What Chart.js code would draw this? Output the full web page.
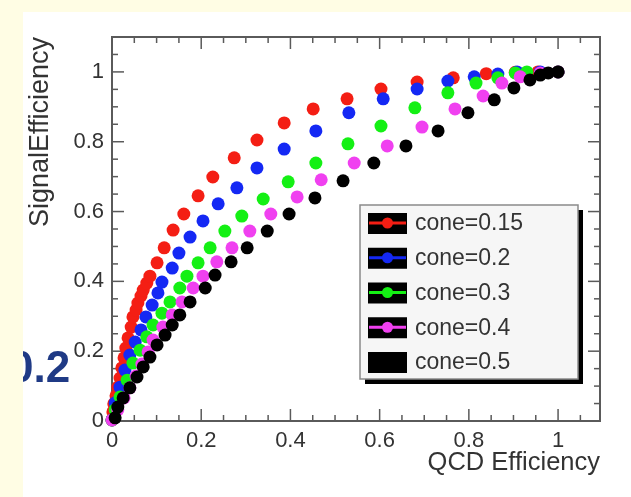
<!DOCTYPE html>
<html>
<head>
<meta charset="utf-8">
<script src="https://cdn.jsdelivr.net/npm/chart.js@4.4.1/dist/chart.umd.min.js"></script>
<style>
  html, body { margin: 0; padding: 0; }
  body { width: 631px; height: 497px; background: #fffde4; position: relative; overflow: hidden; }
  #panel { position: absolute; left: 23px; top: 12px; width: 608px; height: 485px; background: #fff; overflow: hidden; }
  #panel canvas { position: absolute; left: 0; top: 0; }
  #slideNum { position: absolute; left: -14px; top: 333px; font: bold 44px "Liberation Sans", Arial, sans-serif; line-height: 44px; color: #1f3a85; white-space: nowrap; }
</style>
</head>
<body>
<div id="panel">
  <canvas id="roc" width="608" height="485"></canvas>
  <div id="slideNum">0.2</div>
</div>
<script>
// tick labels
const xTicks = [0, 0.2, 0.4, 0.6, 0.8, 1];
const yTicks = [0, 0.2, 0.4, 0.6, 0.8, 1];

// cone = 0.15
const qcd015 = [0.000, 0.002, 0.004, 0.009, 0.013, 0.018, 0.022, 0.027, 0.031, 0.036, 0.043, 0.047, 0.054, 0.058, 0.065, 0.070, 0.078, 0.085, 0.101, 0.117, 0.137, 0.161, 0.193, 0.226, 0.274, 0.325, 0.386, 0.451, 0.527, 0.603, 0.684, 0.765, 0.839, 0.904, 0.955, 1.000];
const sig015 = [0.003, 0.026, 0.049, 0.072, 0.097, 0.123, 0.152, 0.181, 0.209, 0.238, 0.269, 0.298, 0.318, 0.338, 0.358, 0.375, 0.395, 0.415, 0.453, 0.496, 0.547, 0.593, 0.645, 0.699, 0.754, 0.805, 0.854, 0.894, 0.923, 0.951, 0.971, 0.983, 0.995, 0.999, 1.000, 1.000];
// cone = 0.2
const qcd02 = [0.000, 0.007, 0.018, 0.029, 0.040, 0.052, 0.065, 0.076, 0.090, 0.103, 0.112, 0.135, 0.150, 0.175, 0.204, 0.238, 0.280, 0.325, 0.386, 0.457, 0.531, 0.608, 0.684, 0.753, 0.812, 0.865, 0.908, 0.960, 1.000];
const sig02 = [0.003, 0.052, 0.097, 0.146, 0.189, 0.226, 0.261, 0.298, 0.332, 0.367, 0.398, 0.438, 0.481, 0.527, 0.573, 0.622, 0.668, 0.725, 0.779, 0.831, 0.883, 0.923, 0.951, 0.974, 0.986, 0.994, 1.000, 1.000, 1.000];
// cone = 0.3
const qcd03 = [0.000, 0.007, 0.018, 0.034, 0.047, 0.063, 0.078, 0.092, 0.112, 0.130, 0.152, 0.168, 0.193, 0.220, 0.253, 0.291, 0.339, 0.395, 0.457, 0.529, 0.603, 0.679, 0.753, 0.816, 0.865, 0.904, 0.930, 1.000];
const sig03 = [0.003, 0.032, 0.069, 0.117, 0.166, 0.203, 0.241, 0.275, 0.309, 0.341, 0.381, 0.415, 0.453, 0.496, 0.544, 0.587, 0.636, 0.685, 0.739, 0.794, 0.845, 0.897, 0.940, 0.968, 0.983, 0.997, 1.000, 1.000];
// cone = 0.4
const qcd04 = [0.000, 0.013, 0.027, 0.040, 0.054, 0.067, 0.081, 0.092, 0.114, 0.135, 0.157, 0.182, 0.204, 0.235, 0.269, 0.309, 0.356, 0.415, 0.469, 0.543, 0.617, 0.695, 0.769, 0.832, 0.874, 0.915, 0.960, 1.000];
const sig04 = [0.003, 0.032, 0.066, 0.095, 0.129, 0.163, 0.198, 0.232, 0.269, 0.304, 0.341, 0.381, 0.415, 0.456, 0.496, 0.544, 0.593, 0.642, 0.691, 0.739, 0.788, 0.842, 0.894, 0.931, 0.968, 0.986, 0.997, 1.000];
// cone = 0.5
const qcd05 = [0.007, 0.013, 0.025, 0.040, 0.056, 0.070, 0.085, 0.101, 0.119, 0.135, 0.152, 0.175, 0.209, 0.231, 0.267, 0.303, 0.348, 0.397, 0.455, 0.518, 0.587, 0.659, 0.731, 0.798, 0.857, 0.901, 0.937, 0.960, 0.978, 1.000];
const sig05 = [0.009, 0.040, 0.066, 0.095, 0.126, 0.155, 0.183, 0.218, 0.246, 0.275, 0.304, 0.341, 0.381, 0.418, 0.456, 0.496, 0.544, 0.593, 0.639, 0.688, 0.739, 0.788, 0.831, 0.883, 0.920, 0.954, 0.977, 0.991, 0.997, 1.000];

const seriesLabels = ['cone=0.15', 'cone=0.2', 'cone=0.3', 'cone=0.4', 'cone=0.5'];
const seriesColors = ['#f41e14', '#1428f4', '#14f014', '#f040f0', '#000000'];
const seriesX = [qcd015, qcd02, qcd03, qcd04, qcd05];
const seriesY = [sig015, sig02, sig03, sig04, sig05];

const FONT = '"Liberation Sans", Arial, sans-serif';
const AXIS_COLOR = '#5a5a5a';
const minorStep = 0.05;

function line(ctx, x1, y1, x2, y2) {
    ctx.beginPath();
    ctx.moveTo(x1, y1);
    ctx.lineTo(x2, y2);
    ctx.stroke();
}

// ROOT style frame with inward ticks on all four sides
const frameTicks = {
    id: 'frameTicks',
    beforeDatasetsDraw(chart) {
        const { ctx, chartArea: a, scales } = chart;
        ctx.save();
        ctx.strokeStyle = AXIS_COLOR;
        ctx.lineWidth = 1.5;
        for (let i = 0; i * minorStep <= scales.x.max + 1e-9; i++) {
            const px = scales.x.getPixelForValue(i * minorStep);
            const len = i % 4 === 0 ? 12 : 6;
            line(ctx, px, a.bottom, px, a.bottom - len);
            line(ctx, px, a.top, px, a.top + len);
        }
        for (let i = 0; i * minorStep <= scales.y.max + 1e-9; i++) {
            const py = scales.y.getPixelForValue(i * minorStep);
            const len = i % 4 === 0 ? 12 : 6;
            line(ctx, a.left, py, a.left + len, py);
            line(ctx, a.right, py, a.right - len, py);
        }
        ctx.lineWidth = 2;
        ctx.strokeRect(a.left, a.top, a.right - a.left, a.bottom - a.top);
        ctx.restore();
    },
};

// boxed legend with drop shadow
const boxLegend = {
    id: 'boxLegend',
    afterDraw(chart) {
        const ctx = chart.ctx;
        const x0 = 337, y0 = 193, w = 218, h = 174;
        ctx.save();
        ctx.fillStyle = '#000';
        ctx.fillRect(x0 + 5, y0 + 5, w, h);
        ctx.fillStyle = '#f6f6f6';
        ctx.fillRect(x0, y0, w, h);
        ctx.strokeStyle = '#8a8a8a';
        ctx.lineWidth = 1.5;
        ctx.strokeRect(x0, y0, w, h);
        chart.data.datasets.forEach((ds, i) => {
            const cy = y0 + 18 + i * 34.75;
            ctx.fillStyle = '#000';
            ctx.fillRect(345, cy - 10, 39, 21);
            ctx.strokeStyle = ds.backgroundColor;
            ctx.lineWidth = 3;
            line(ctx, 346, cy, 383, cy);
            ctx.fillStyle = ds.backgroundColor;
            ctx.beginPath();
            ctx.arc(364.5, cy, 5.5, 0, Math.PI * 2);
            ctx.fill();
            ctx.fillStyle = '#333';
            ctx.font = '23px ' + FONT;
            ctx.textBaseline = 'middle';
            ctx.fillText(ds.label, 392, cy + 1);
        });
        ctx.restore();
    },
};

const datasets = seriesLabels.map((label, k) => ({
    label,
    data: seriesX[k].map((x, i) => ({ x, y: seriesY[k][i] })),
    backgroundColor: seriesColors[k],
    borderColor: seriesColors[k],
    pointRadius: 6.5,
    pointHoverRadius: 6.5,
    pointBorderWidth: 0,
    showLine: false,
    clip: false,
    order: seriesLabels.length - 1 - k,
}));

const tickFont = { family: FONT, size: 22 };
const fmt = (v) => String(+Number(v).toFixed(2));

new Chart(document.getElementById('roc'), {
    type: 'scatter',
    data: { datasets },
    options: {
        responsive: false,
        animation: false,
        devicePixelRatio: 1,
        layout: { padding: { left: 0, right: 31, top: 25, bottom: 0 } },
        plugins: { legend: { display: false }, tooltip: { enabled: false } },
        scales: {
            x: {
                type: 'linear',
                min: 0,
                max: 1.094,
                afterBuildTicks: (s) => { s.ticks = xTicks.map((v) => ({ value: v })); },
                afterFit: (s) => { s.height = 76; },
                grid: { display: false, drawTicks: false },
                border: { display: false },
                ticks: { padding: 7, color: '#333', font: tickFont, maxRotation: 0, callback: fmt },
                title: { display: true, text: 'QCD Efficiency', align: 'end', color: '#333', font: { family: FONT, size: 25.5 }, padding: { top: 0, bottom: 19 } },
            },
            y: {
                type: 'linear',
                min: 0,
                max: 1.1,
                afterBuildTicks: (s) => { s.ticks = yTicks.map((v) => ({ value: v })); },
                afterFit: (s) => { s.width = 89; },
                grid: { display: false, drawTicks: false },
                border: { display: false },
                ticks: { padding: 8, color: '#333', font: tickFont, callback: fmt },
                title: { display: true, text: 'SignalEfficiency', align: 'end', color: '#333', font: { family: FONT, size: 27 }, padding: { top: 1, bottom: 0 } },
            },
        },
    },
    plugins: [frameTicks, boxLegend],
});
</script>
</body>
</html>
